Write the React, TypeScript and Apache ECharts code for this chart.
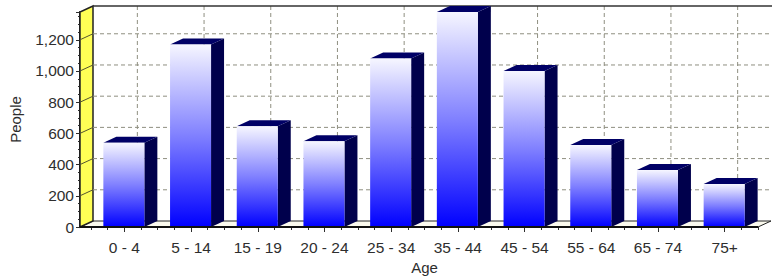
import React, { useEffect, useRef } from "react";
import * as echarts from "echarts";

const categories = ["0 - 4", "5 - 14", "15 - 19", "20 - 24", "25 - 34", "35 - 44", "45 - 54", "55 - 64", "65 - 74", "75+"];
const people = [540, 1170, 645, 550, 1080, 1378, 1000, 525, 365, 275];
const yTickStep = 200;
const yLabelValues = [0, 200, 400, 600, 800, 1000, 1200];

const W = 772;
const H = 279;
const DX = 13;
const DY = 6;
const FONT = "'Liberation Sans', Arial, sans-serif";
const TEXT = "#2e2e2e";
const GRIDC = "#8f8f80";

export default function App() {
  const ref = useRef<HTMLDivElement>(null);
  useEffect(() => {
    if (!ref.current) return;
    const chart = echarts.init(ref.current, undefined, { renderer: "svg" });
    const yMax = Math.max(...people);
    const option: any = {
      animation: false,
      backgroundColor: "#ffffff",
      grid: { left: 91, right: 14, top: 12, bottom: 52, containLabel: false, outerBoundsMode: "none" },
      xAxis: [
        {
          type: "category",
          data: categories,
          position: "bottom",
          name: "Age",
          nameLocation: "middle",
          nameGap: 33,
          nameTextStyle: { fontFamily: FONT, fontSize: 15, color: TEXT },
          axisLine: { show: false, onZero: false },
          axisTick: { show: true, alignWithLabel: true, length: 5, lineStyle: { color: TEXT } },
          axisLabel: { fontFamily: FONT, fontSize: 15.5, color: TEXT, margin: 12 },
          splitLine: { show: false },
        },
        {
          type: "value",
          position: "bottom",
          min: -0.5,
          max: categories.length - 0.5,
          interval: 0.25,
          axisLine: { show: false, onZero: false },
          axisTick: { show: true, length: 3, lineStyle: { color: TEXT } },
          axisLabel: { show: false },
          splitLine: { show: false },
        },
      ],
      yAxis: {
        type: "value",
        min: 0,
        max: yMax,
        interval: yTickStep,
        offset: 11,
        name: "People",
        nameLocation: "middle",
        nameGap: 57,
        nameTextStyle: { fontFamily: FONT, fontSize: 15, color: TEXT },
        axisLine: { show: true, onZero: false, lineStyle: { color: "#111", width: 2 } },
        axisTick: { show: true, length: 4, lineStyle: { color: TEXT } },
        minorTick: { show: true, splitNumber: 4, length: 2, lineStyle: { color: TEXT } },
        axisLabel: {
          fontFamily: FONT,
          fontSize: 15.5,
          color: TEXT,
          margin: 6,
          formatter: (v: number) => (yLabelValues.indexOf(v) >= 0 ? v.toLocaleString("en-US") : ""),
        },
        splitLine: { show: false },
      },
      series: [
        {
          type: "custom",
          z: 5,
          encode: { x: 0, y: 1 },
          data: people.map((v, i) => [i, v]),
          renderItem: (params: any, api: any) => {
            const i = api.value(0);
            const v = api.value(1);
            const top = api.coord([i, v]);
            const base = api.coord([i, 0]);
            const xc = top[0];
            const x0 = xc - 21;
            const x1 = xc + 20;
            const yt = top[1];
            const yb = base[1];
            return {
              type: "group",
              children: [
                {
                  type: "polygon",
                  shape: { points: [[x1, yt], [x1 + DX, yt - DY], [x1 + DX, yb - DY], [x1, yb]] },
                  style: { fill: "#00004c" },
                },
                {
                  type: "polygon",
                  shape: { points: [[x0, yt], [x1, yt], [x1 + DX, yt - DY], [x0 + DX, yt - DY]] },
                  style: { fill: "#000066" },
                },
                {
                  type: "rect",
                  shape: { x: x0, y: yt, width: x1 - x0, height: yb - yt },
                  style: {
                    fill: new echarts.graphic.LinearGradient(0, 0, 0, 1, [
                      { offset: 0, color: "#f6f6ff" },
                      { offset: 0.5, color: "#8080ff" },
                      { offset: 1, color: "#0000ff" },
                    ]),
                  },
                },
              ],
            };
          },
        },
      ],
    };
    chart.setOption(option);

    const px = (i: number, v: number) => chart.convertToPixel({ xAxisIndex: 0, yAxisIndex: 0 }, [i, v]) as number[];
    const yOf = (v: number) => px(0, v)[1];
    const bw = px(1, 0)[0] - px(0, 0)[0];
    const frontLeft = px(0, 0)[0] - bw / 2 - 11;
    const frontRight = px(categories.length - 1, 0)[0] + bw / 2;
    const y0 = yOf(0);
    const yTop = yOf(yMax);
    const els: any[] = [];
    els.push({
      type: "rect",
      z: 0,
      shape: { x: frontLeft + DX, y: yTop - DY, width: frontRight - frontLeft, height: y0 - yTop },
      style: { fill: "#ffffff" },
    });
    els.push({
      type: "polygon",
      z: 1,
      shape: { points: [[frontLeft, y0], [frontRight, y0], [frontRight + DX, y0 - DY], [frontLeft + DX, y0 - DY]] },
      style: { fill: "#fbfaee", stroke: "#222", lineWidth: 1 },
    });
    els.push({
      type: "polygon",
      z: 1,
      shape: { points: [[frontLeft, y0], [frontLeft, yTop], [frontLeft + DX, yTop - DY], [frontLeft + DX, y0 - DY]] },
      style: { fill: "#ffff55", stroke: "#222", lineWidth: 1.5 },
    });
    yLabelValues.forEach((v) => {
      if (v === 0) return;
      const y = yOf(v);
      els.push({
        type: "line",
        z: 2,
        shape: { x1: frontLeft + DX, y1: y - DY, x2: frontRight + DX, y2: y - DY },
        style: { stroke: GRIDC, lineWidth: 1, lineDash: [4, 3] },
      });
      els.push({
        type: "line",
        z: 2,
        shape: { x1: frontLeft, y1: y, x2: frontLeft + DX, y2: y - DY },
        style: { stroke: "#555530", lineWidth: 1 },
      });
    });
    categories.forEach((_, i) => {
      const x = px(i, 0)[0] + DX;
      els.push({
        type: "line",
        z: 2,
        shape: { x1: x, y1: yTop - DY, x2: x, y2: y0 - DY },
        style: { stroke: GRIDC, lineWidth: 1, lineDash: [4, 3] },
      });
    });
    els.push({
      type: "line",
      z: 3,
      shape: { x1: frontLeft + DX, y1: yTop - DY, x2: W, y2: yTop - DY },
      style: { stroke: "#333", lineWidth: 1.5 },
    });
    els.push({
      type: "line",
      z: 10,
      shape: { x1: frontLeft, y1: y0, x2: frontRight, y2: y0 },
      style: { stroke: "#111", lineWidth: 2 },
    });
    chart.setOption({ graphic: { elements: els } });

    return () => chart.dispose();
  }, []);
  return (
    <div
      ref={ref}
      style={{ position: "fixed", left: 0, top: 0, width: W, height: H, background: "#fff" }}
    />
  );
}
